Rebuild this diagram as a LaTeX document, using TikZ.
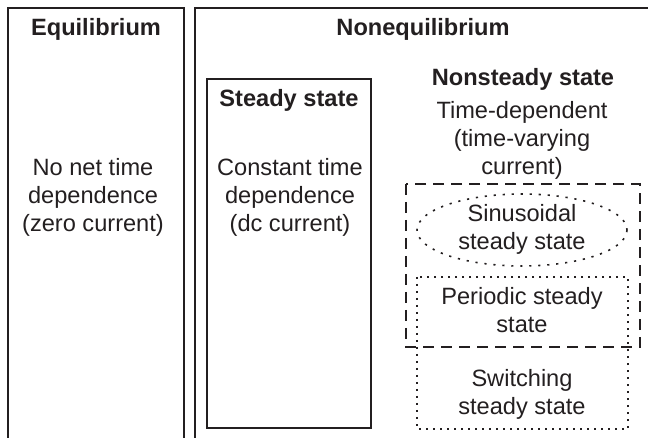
\documentclass[tikz,border=0pt]{standalone}
\usepackage{fontspec}
\setmainfont{Liberation Sans}
\definecolor{ink}{RGB}{35,31,32}
\begin{document}
\begin{tikzpicture}[x=0.5pt,y=-0.5pt,color=ink,
    title/.style={font=\fontsize{11.8}{14}\selectfont\bfseries, align=center},
    body/.style={font=\fontsize{11.8}{14}\selectfont, align=center},
    dashbox/.style={line width=0.9pt, dash pattern=on 5.5pt off 3.5pt},
    dotbox/.style={line width=0.9pt, dash pattern=on 1.1pt off 2.4pt},
    dotoval/.style={line width=0.8pt, dash pattern=on 1.1pt off 3.4pt}]
        \useasboundingbox (0,0) rectangle (648,438);
        \clip (0,0) rectangle (648,438);

        % outer regions run off the page
        \draw[line width=1pt] (8,8) rectangle (184,470);
        \draw[line width=1pt] (195,8) rectangle (680,470);
        \draw[line width=0.8pt] (207,79) rectangle (371,428);

        % nonsteady sub-cases
        \draw[dashbox] (406,184) rectangle (640,347);
        \draw[dotbox] (417,277) rectangle (628,429);
        \draw[dotoval] (522,230) ellipse [x radius=105, y radius=36];

        \node[title] (eq) at (96,29) {Equilibrium};
        \node[title] (noneq) at (423,29) {Nonequilibrium};
        \node[title] (steady) at (289,100) {Steady state};
        \node[title] (nonsteady) at (523,79) {Nonsteady state};

        \node[body] (eqtxt) at (93,197) {No net time\\dependence\\(zero current)};
        \node[body] (sstxt) at (290,197) {Constant time\\dependence\\(dc current)};
        \node[body] (nstxt) at (522,140) {Time-dependent\\(time-varying\\current)};
        \node[body] (sinus) at (522,229) {Sinusoidal\\steady state};
        \node[body] (period) at (522,310) {Periodic steady\\state};
        \node[body] (switch) at (522,394) {Switching\\steady state};
    \end{tikzpicture}
\end{document}
